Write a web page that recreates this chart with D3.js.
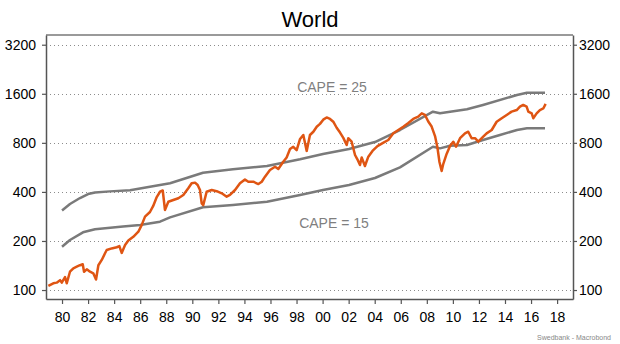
<!DOCTYPE html>
<html><head><meta charset="utf-8">
<script src="https://cdn.jsdelivr.net/npm/d3@7"></script>
<style>
body{margin:0;background:#fff}
svg{display:block;font-family:"Liberation Sans",Arial,sans-serif}
</style>
</head><body>
<svg id="c" width="620" height="344"></svg>
<script>
// ---- data ----
const yTicks = [100, 200, 400, 800, 1600, 3200];
const xTickYears = d3.range(1980, 2019, 2);

const worldYears = [1978.95,1979.33,1979.59,1979.85,1979.98,1980.23,1980.36,1980.61,1980.87,1981.13,1981.38,1981.59,1981.69,1981.90,1982.15,1982.40,1982.61,1982.79,1983.05,1983.30,1983.43,1983.81,1984.20,1984.40,1984.58,1984.84,1985.09,1985.47,1985.86,1986.12,1986.37,1986.75,1987.00,1987.27,1987.52,1987.73,1987.83,1987.90,1988.16,1988.54,1988.93,1989.31,1989.69,1989.95,1990.21,1990.41,1990.59,1990.72,1990.84,1991.10,1991.49,1991.87,1992.26,1992.64,1992.89,1993.28,1993.66,1994.04,1994.30,1994.68,1995.07,1995.33,1995.58,1995.96,1996.35,1996.60,1996.98,1997.24,1997.50,1997.75,1998.01,1998.27,1998.52,1998.78,1999.03,1999.29,1999.55,1999.80,2000.05,2000.31,2000.57,2000.82,2001.08,2001.34,2001.59,2001.85,2001.97,2002.23,2002.49,2002.66,2002.87,2003.00,2003.25,2003.51,2003.83,2004.21,2004.64,2005.04,2005.43,2005.81,2006.19,2006.58,2006.96,2007.34,2007.61,2007.86,2008.11,2008.37,2008.63,2008.82,2008.97,2009.14,2009.26,2009.52,2009.78,2010.03,2010.24,2010.55,2010.93,2011.18,2011.44,2011.70,2011.95,2012.33,2012.59,2012.98,2013.36,2013.75,2014.13,2014.51,2014.90,2015.15,2015.40,2015.66,2015.79,2016.05,2016.17,2016.43,2016.68,2016.94,2017.12];
const worldValues = [106,110,111,115,111,120,110,129.5,136,139,142,144,129.5,134,129.5,126.6,116,142,153,168,176,180,183,186,169,189,201,212,228,251,282,301,328,372,401,408,348,310,348,357,366,383,421,452,456,441,411,340,332,401,411,404,392,374,383,411,452,477,462,462,447,462,496,545,571,553,613,650,733,757,721,845,894,714,894,936,1005,1046,1110,1145,1121,1078,990,925,858,776,854,813,674,636,585,650,577,658,714,764,800,833,915,959,1005,1058,1121,1158,1213,1186,1081,1007,880,744,610,537,593,684,764,813,757,854,915,936,854,854,813,873,915,959,1078,1133,1186,1244,1272,1333,1366,1333,1244,1213,1133,1213,1272,1300,1386];

const cape25Years = [1980.0,1980.61,1981.38,1982.0,1982.53,1983.68,1985.22,1986.75,1988.29,1990.82,1993.12,1995.73,1998.27,2000.03,2002.03,2004.02,2005.94,2008.47,2009.01,2011.08,2012.31,2014.92,2015.68,2017.07];
const cape25Values = [307.5,337,367,388,397,403,409,430,452,524,550,577,634,683,733,809,959,1242,1214,1285,1366,1573,1624,1624];

const cape15Years = [1980.0,1980.61,1981.61,1982.53,1984.68,1985.99,1987.52,1988.29,1990.82,1993.12,1995.73,1998.27,2000.03,2002.03,2004.02,2005.94,2008.47,2009.01,2009.78,2011.08,2012.31,2013.61,2014.92,2015.68,2017.07];
const cape15Values = [184.4,202.7,226,236,245,251,262.5,279,322,332.5,348,383,411,441,487,566,757,740,768,776,833,894,959,982,982];

// ---- layout ----
const L = 46, R = 573, T = 35, B = 299;
const svg = d3.select('#c');
const x = d3.scaleLinear().domain([1978.77, 2019.22]).range([L, R]);
const y = d3.scaleLog().domain([88.1, 3671]).range([B, T]);

// title
svg.append('text').attr('x', 310).attr('y', 27).attr('text-anchor', 'middle')
  .attr('font-size', 22).attr('fill', '#000').text('World');

// grid
svg.append('g').selectAll('line').data(yTicks).join('line')
  .attr('x1', L).attr('x2', R)
  .attr('y1', d => Math.round(y(d)) + 0.5).attr('y2', d => Math.round(y(d)) + 0.5)
  .attr('stroke', '#8c8c8c').attr('stroke-width', 1).attr('stroke-dasharray', '1,3');

// series
const line = d3.line().x(d => x(d[0])).y(d => y(d[1]));
const mk = (ys, vs) => ys.map((t, i) => [t, vs[i]]);
svg.append('path').datum(mk(cape25Years, cape25Values)).attr('d', line)
  .attr('fill', 'none').attr('stroke', '#7a7a7a').attr('stroke-width', 2.5).attr('stroke-linejoin', 'round');
svg.append('path').datum(mk(cape15Years, cape15Values)).attr('d', line)
  .attr('fill', 'none').attr('stroke', '#7a7a7a').attr('stroke-width', 2.5).attr('stroke-linejoin', 'round');
svg.append('path').datum(mk(worldYears, worldValues)).attr('d', line)
  .attr('fill', 'none').attr('stroke', '#df5513').attr('stroke-width', 2.5).attr('stroke-linejoin', 'round');

// labels
svg.append('text').attr('x', 332).attr('y', 92).attr('text-anchor', 'middle')
  .attr('font-size', 14).attr('fill', '#7f7f7f').text('CAPE = 25');
svg.append('text').attr('x', 334).attr('y', 228).attr('text-anchor', 'middle')
  .attr('font-size', 14).attr('fill', '#7f7f7f').text('CAPE = 15');

// frame top
svg.append('line').attr('x1', L).attr('x2', R).attr('y1', T).attr('y2', T)
  .attr('stroke', '#9a9a9a').attr('stroke-width', 2);

// axes
const fmt = d => String(d);
const styleAxis = g => {
  g.select('.domain').attr('stroke', '#555').attr('stroke-width', 1.5);
  g.selectAll('.tick line').attr('stroke', '#555').attr('stroke-width', 1.2);
  g.selectAll('text').attr('fill', '#000').attr('font-size', 14).attr('font-family', '"Liberation Sans",Arial,sans-serif');
};
svg.append('g').attr('transform', `translate(${L},0)`)
  .call(d3.axisLeft(y).tickValues(yTicks).tickFormat(fmt).tickSize(4).tickSizeOuter(0).tickPadding(6))
  .call(styleAxis);
svg.append('g').attr('transform', `translate(${R},0)`)
  .call(d3.axisRight(y).tickValues(yTicks).tickFormat(fmt).tickSize(4).tickSizeOuter(0).tickPadding(2))
  .call(styleAxis);
svg.append('g').attr('transform', `translate(0,${B})`)
  .call(d3.axisBottom(x).tickValues(xTickYears).tickFormat(d => String(d % 100).padStart(2, '0')).tickSize(5).tickSizeOuter(0).tickPadding(8))
  .call(styleAxis);

// source
svg.append('text').attr('x', 611).attr('y', 340).attr('text-anchor', 'end')
  .attr('font-size', 7).attr('fill', '#888').text('Swedbank - Macrobond');
</script>
</body></html>
